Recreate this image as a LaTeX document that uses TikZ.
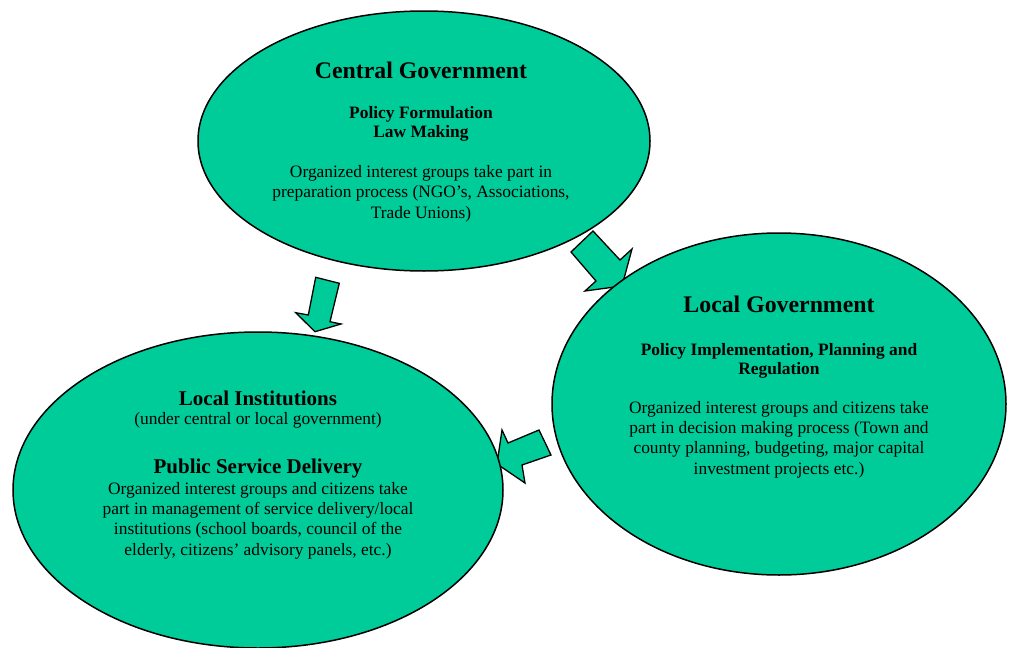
\documentclass[tikz,border=0pt]{standalone}
\usepackage{fontspec}
\setmainfont{Liberation Serif}
\usetikzlibrary{shapes.geometric}
\definecolor{ovalgreen}{HTML}{00CC99}
\begin{document}
\begin{tikzpicture}[x=1pt,y=-1pt,
  oval/.style={ellipse, draw=black, line width=1.5pt, fill=ovalgreen, inner sep=0pt},
  blockarrow/.style={draw=black, line width=1.3pt, fill=ovalgreen, line join=miter},
  title/.style={font=\fontsize{23.8}{28}\selectfont\bfseries, anchor=base, inner sep=0pt},
  head/.style={font=\fontsize{21}{25}\selectfont\bfseries, anchor=base, inner sep=0pt},
  sub/.style={font=\fontsize{17.4}{19}\selectfont\bfseries, anchor=base, align=center, inner sep=0pt},
  body/.style={font=\fontsize{17.4}{20.3}\selectfont, anchor=base, align=center, inner sep=0pt}]
\useasboundingbox (0,0) rectangle (1013,648);

% block arrows (drawn first, ellipses cover their tips)
\draw[blockarrow] (315.7,277.3) -- (339.3,283.3) -- (330,321.7) -- (341,324) -- (315,331.7) -- (295.7,312.7) -- (308.3,315) -- cycle;
\draw[blockarrow] (593,231) -- (620,260) -- (632,249) -- (622,286) -- (585,291) -- (596,281) -- (571,252) -- cycle;
\draw[blockarrow] (539,430) -- (551,455) -- (522,465) -- (525,483) -- (497,464) -- (502,430) -- (508,443) -- cycle;

% ellipses
\node[oval, minimum width=452pt, minimum height=260pt] (central) at (424,141) {};
\node[oval, minimum width=454pt, minimum height=342pt] (localgov) at (779,404) {};
\node[oval, minimum width=490pt, minimum height=316pt] (localinst) at (258,490) {};

% central government text (multi-line nodes are placed by their last baseline)
\node[title] (ctitle) at (421,78) {Central Government};
\node[sub] (csub) at (421,137) {Policy Formulation\\Law Making};
\node[body] (cbody) at (421,218) {Organized interest groups take part in\\preparation process (NGO’s, Associations,\\Trade Unions)};

% local government text
\node[title] (ltitle) at (779,312) {Local Government};
\node[sub] (lsub) at (779,374) {Policy Implementation, Planning and\\Regulation};
\node[body] (lbody) at (779,474) {Organized interest groups and citizens take\\part in decision making process (Town and\\county planning, budgeting, major capital\\investment projects etc.)};

% local institutions text
\node[head] (ititle) at (258,405) {Local Institutions};
\node[body] (inote) at (258,424) {(under central or local government)};
\node[head] (ipsd) at (258,473) {Public Service Delivery};
\node[body] (ibody) at (258,555) {Organized interest groups and citizens take\\part in management of service delivery/local\\institutions (school boards, council of the\\elderly, citizens’ advisory panels, etc.)};
\end{tikzpicture}
\end{document}
